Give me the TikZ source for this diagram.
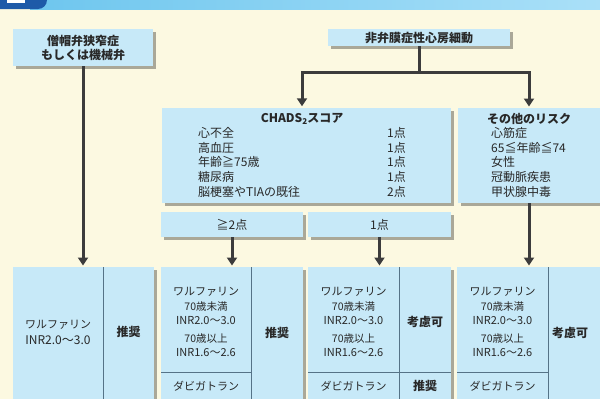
\documentclass[tikz,border=0pt]{standalone}
\usepackage{fontspec}
\setmainfont{Noto Sans CJK JP}
\usetikzlibrary{arrows.meta,shadows}
\definecolor{bg}{RGB}{252,249,225}
\definecolor{boxc}{RGB}{199,233,248}
\definecolor{shad}{RGB}{170,168,152}
\definecolor{ln}{RGB}{60,60,60}
\definecolor{txt}{RGB}{40,40,40}
\definecolor{divc}{RGB}{85,115,135}
\definecolor{barl}{RGB}{110,198,238}
\definecolor{barr}{RGB}{170,224,248}
\definecolor{navy}{RGB}{30,90,168}
\tikzset{
 box/.style={fill=boxc, inner sep=0pt, text=txt, align=center,
   drop shadow={shadow xshift=2.5pt, shadow yshift=-2.5pt, fill=shad, opacity=1}},
 ttl/.style={font=\fontsize{12}{14}\selectfont\bfseries, text=txt, inner sep=0pt, align=center},
 itm/.style={font=\fontsize{12}{14}\selectfont, text=txt, inner sep=0pt},
 sm/.style={font=\fontsize{11}{13}\selectfont, text=txt, inner sep=0pt},
 xs/.style={font=\fontsize{10.5}{12}\selectfont, text=txt, inner sep=0pt},
 arr/.style={draw=ln, line width=3pt, shorten >=1.5pt, -{Triangle[width=10pt,length=8pt]}},
 conn/.style={draw=ln, line width=3pt},
 divl/.style={draw=divc, line width=0.8pt},
}
\begin{document}
\begin{tikzpicture}[x=1pt,y=-1pt]
\useasboundingbox (0,0) rectangle (600,399);
\clip (0,0) rectangle (600,399);
\fill[bg] (0,0) rectangle (600,399);
% top bar
\shade[left color=barl, right color=barr] (30,-5) rectangle (600,9.5);
\fill[navy, rounded corners=9pt] (-10,-20) rectangle (47,9);
\fill[white] (7,-2) rectangle (25,2.5);

% top boxes
\node[box, ttl, minimum width=140pt, minimum height=37pt] (mv) at (83,47.5) {僧帽弁狭窄症\\もしくは機械弁};
\node[box, ttl, minimum width=182pt, minimum height=17pt] (af) at (419,37.5) {非弁膜症性心房細動};

% CHADS2 box
\node[box, minimum width=289pt, minimum height=95pt] (chads) at (306.5,155.5) {};
\node[ttl] (chT) at (302,119) {CHADS{\fontsize{8}{8}\selectfont\raisebox{-1.5pt}{2}}スコア};
\node[itm, anchor=west] (r1) at (198,133) {心不全};
\node[itm, anchor=west] (r2) at (198,148) {高血圧};
\node[itm, anchor=west] (r3) at (198,162) {年齢≧75歳};
\node[itm, anchor=west] (r4) at (198,177) {糖尿病};
\node[itm, anchor=west] (r5) at (198,192) {脳梗塞やTIAの既往};
\node[itm, anchor=west] (p1) at (387,133) {1点};
\node[itm, anchor=west] (p2) at (387,148) {1点};
\node[itm, anchor=west] (p3) at (387,162) {1点};
\node[itm, anchor=west] (p4) at (387,177) {1点};
\node[itm, anchor=west] (p5) at (387,192) {2点};

% other risk box
\node[box, minimum width=150pt, minimum height=95pt, anchor=north west] (oth) at (458,108) {};
\node[ttl] (othT) at (529,119) {その他のリスク};
\node[itm, anchor=west] (o1) at (491,133) {心筋症};
\node[itm, anchor=west] (o2) at (491,148) {65≦年齢≦74};
\node[itm, anchor=west] (o3) at (491,162) {女性};
\node[itm, anchor=west] (o4) at (491,177) {冠動脈疾患};
\node[itm, anchor=west] (o5) at (491,192) {甲状腺中毒};

% score boxes
\node[box, itm, minimum width=142pt, minimum height=25pt] (ge2) at (232,224.5) {≧2点};
\node[box, itm, minimum width=143pt, minimum height=25pt] (one) at (379.5,224.5) {1点};

% bottom boxes
\node[box, minimum width=141pt, minimum height=150pt, anchor=north west] (A) at (13,267) {};
\node[box, minimum width=142pt, minimum height=150pt, anchor=north west] (B) at (161,267) {};
\node[box, minimum width=143pt, minimum height=150pt, anchor=north west] (C) at (308,267) {};
\node[box, minimum width=160pt, minimum height=150pt, anchor=north west] (D) at (457,267) {};
\draw[divl] (103,267) -- (103,420);
\draw[divl] (251,267) -- (251,420);
\draw[divl] (161,372) -- (251,372);
\draw[divl] (399,267) -- (399,420);
\draw[divl] (308,372) -- (451,372);
\draw[divl] (548,267) -- (548,420);
\draw[divl] (457,372) -- (548,372);

% box A
\node[sm] (a1) at (58,325) {ワルファリン};
\node[itm] (a2) at (58,340) {INR2.0〜3.0};
\node[ttl] (a3) at (128.5,332) {推奨};
% box B
\node[sm] (b1) at (206,292) {ワルファリン};
\node[xs] (b2) at (206,307) {70歳未満};
\node[sm] (b3) at (206,320.5) {INR2.0〜3.0};
\node[xs] (b4) at (206,339) {70歳以上};
\node[sm] (b5) at (206,352.5) {INR1.6〜2.6};
\node[sm] (b6) at (206,386) {ダビガトラン};
\node[ttl] (b7) at (277,333) {推奨};
% box C
\node[sm] (c1) at (353.5,292) {ワルファリン};
\node[xs] (c2) at (353.5,307) {70歳未満};
\node[sm] (c3) at (353.5,320.5) {INR2.0〜3.0};
\node[xs] (c4) at (353.5,339) {70歳以上};
\node[sm] (c5) at (353.5,352.5) {INR1.6〜2.6};
\node[sm] (c6) at (353.5,386) {ダビガトラン};
\node[ttl] (c7) at (425,322) {考慮可};
\node[ttl] (c8) at (425,386) {推奨};
% box D
\node[sm] (d1) at (502.5,292) {ワルファリン};
\node[xs] (d2) at (502.5,307) {70歳未満};
\node[sm] (d3) at (502.5,320.5) {INR2.0〜3.0};
\node[xs] (d4) at (502.5,339) {70歳以上};
\node[sm] (d5) at (502.5,352.5) {INR1.6〜2.6};
\node[sm] (d6) at (502.5,386) {ダビガトラン};
\node[ttl] (d7) at (570,333) {考慮可};

% connectors
\coordinate (j) at (419,72);
\coordinate (jl) at (302,72);
\coordinate (jr) at (529,72);
\draw[arr] (mv.south) -- (mv.south |- A.north);
\draw[conn] (af.south) -- (j);
\draw[arr] (j) -| (jl |- chads.north);
\draw[arr] (j) -| (jr |- oth.north);
\draw[arr] (ge2.south) -- (ge2.south |- B.north);
\draw[arr] (one.south) -- (one.south |- C.north);
\draw[arr] (jr |- oth.south) -- (jr |- D.north);
\end{tikzpicture}
\end{document}
